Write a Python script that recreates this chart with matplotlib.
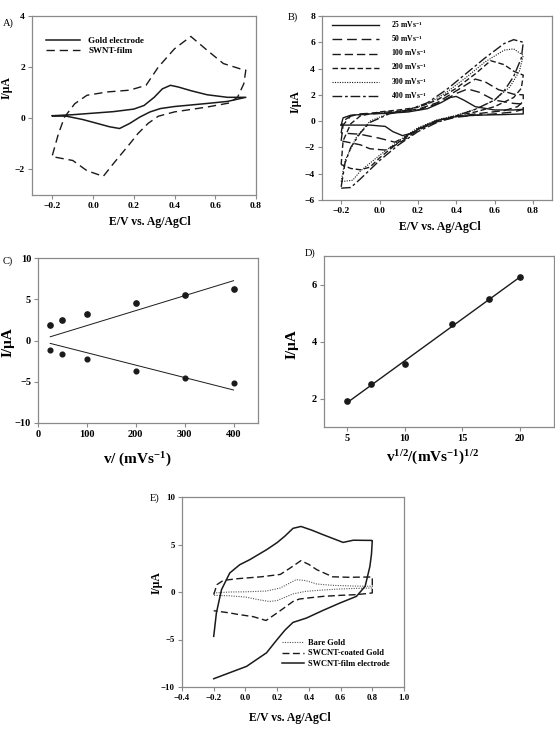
import matplotlib
matplotlib.use('Agg')
import matplotlib.pyplot as plt

plt.rcParams['font.family'] = ['Liberation Serif', 'DejaVu Serif']
plt.rcParams['font.weight'] = 'bold'
plt.rcParams['mathtext.fontset'] = 'custom'
plt.rcParams['mathtext.rm'] = 'Liberation Serif:bold'
plt.rcParams['mathtext.bf'] = 'Liberation Serif:bold'
plt.rcParams['mathtext.it'] = 'Liberation Serif:bold'
plt.rcParams['mathtext.default'] = 'bf'

# ---- panel A : gold vs SWNT film ----
goldA_E = [-0.2, -0.1, 0.0, 0.1, 0.2, 0.25, 0.3, 0.34, 0.38, 0.42, 0.48, 0.56, 0.66, 0.75,
           0.66, 0.56, 0.48, 0.4, 0.33, 0.28, 0.23, 0.18, 0.13, 0.08, 0.02, -0.05, -0.13, -0.2]
goldA_I = [0.1, 0.14, 0.2, 0.26, 0.36, 0.5, 0.82, 1.15, 1.29, 1.22, 1.08, 0.92, 0.82, 0.82,
           0.66, 0.58, 0.52, 0.46, 0.38, 0.25, 0.05, -0.2, -0.4, -0.33, -0.2, -0.05, 0.08, 0.1]
swntA_E = [-0.2, -0.17, -0.14, -0.09, -0.03, 0.07, 0.18, 0.26, 0.32, 0.4, 0.48, 0.56, 0.64, 0.72, 0.75,
           0.74, 0.71, 0.67, 0.56, 0.4, 0.32, 0.27, 0.22, 0.18, 0.1, 0.05, -0.03, -0.1, -0.2]
swntA_I = [-1.45, -0.6, 0.05, 0.57, 0.9, 1.03, 1.1, 1.29, 2.0, 2.72, 3.2, 2.66, 2.14, 1.94, 1.88,
           1.35, 0.83, 0.6, 0.44, 0.25, 0.08, -0.2, -0.6, -1.0, -1.77, -2.27, -2.05, -1.65, -1.5]

# ---- panel B : scan rates ----
rate_labels = ['25 mVs$^{-1}$', '50 mVs$^{-1}$', '100 mVs$^{-1}$',
               '200 mVs$^{-1}$', '300 mVs$^{-1}$', '400 mVs$^{-1}$']
b25_E = [-0.2, -0.19, -0.15, -0.05, 0.05, 0.15, 0.25, 0.32, 0.37, 0.4, 0.44, 0.5, 0.6, 0.7, 0.75,
         0.75, 0.65, 0.5, 0.4, 0.3, 0.22, 0.16, 0.12, 0.07, 0.03, -0.05, -0.2]
b25_I = [-0.3, 0.25, 0.45, 0.55, 0.6, 0.7, 0.95, 1.4, 1.8, 1.88, 1.6, 1.1, 0.85, 0.85, 0.9,
         0.55, 0.5, 0.45, 0.35, 0.05, -0.5, -0.95, -1.1, -0.8, -0.4, -0.3, -0.3]
b50_E = [-0.2, -0.19, -0.15, -0.1, 0.0, 0.1, 0.2, 0.3, 0.4, 0.46, 0.52, 0.6, 0.7, 0.75,
         0.75, 0.7, 0.6, 0.5, 0.4, 0.3, 0.2, 0.12, 0.08, 0.0, -0.1, -0.2]
b50_I = [-0.9, 0.0, 0.4, 0.5, 0.6, 0.7, 0.85, 1.3, 2.1, 2.45, 2.2, 1.6, 1.35, 1.3,
         0.9, 0.7, 0.55, 0.45, 0.3, -0.05, -0.6, -1.3, -1.6, -1.3, -1.0, -0.9]
b100_E = [-0.2, -0.19, -0.15, -0.1, 0.0, 0.1, 0.2, 0.3, 0.4, 0.5, 0.55, 0.62, 0.7, 0.75,
          0.75, 0.72, 0.65, 0.5, 0.4, 0.3, 0.2, 0.1, 0.03, -0.05, -0.1, -0.2]
b100_I = [-1.5, -0.3, 0.4, 0.55, 0.65, 0.75, 0.9, 1.4, 2.3, 3.2, 3.0, 2.4, 2.05, 2.0,
          1.5, 1.1, 0.8, 0.55, 0.35, 0.0, -0.7, -1.7, -2.2, -2.1, -1.8, -1.5]
b200_E = [-0.2, -0.19, -0.15, -0.1, 0.0, 0.1, 0.2, 0.3, 0.4, 0.5, 0.58, 0.65, 0.7, 0.75,
          0.75, 0.74, 0.7, 0.6, 0.5, 0.4, 0.3, 0.2, 0.1, 0.0, -0.05, -0.1, -0.15, -0.2]
b200_I = [-3.3, -1.5, -0.2, 0.4, 0.7, 0.85, 1.05, 1.6, 2.5, 3.6, 4.6, 4.3, 3.8, 3.5,
          3.5, 2.5, 1.8, 1.1, 0.7, 0.4, 0.05, -0.6, -1.6, -2.8, -3.5, -3.7, -3.6, -3.3]
b300_E = [-0.2, -0.18, -0.12, -0.05, 0.05, 0.15, 0.25, 0.35, 0.45, 0.55, 0.65, 0.7, 0.75,
          0.75, 0.73, 0.68, 0.6, 0.5, 0.4, 0.3, 0.2, 0.1, 0.0, -0.1, -0.14, -0.2]
b300_I = [-4.6, -3.0, -1.2, 0.0, 0.6, 0.9, 1.3, 2.2, 3.3, 4.5, 5.4, 5.5, 5.0,
          5.0, 3.8, 2.6, 1.6, 0.9, 0.45, 0.1, -0.5, -1.5, -2.6, -3.8, -4.5, -4.6]
b400_E = [-0.2, -0.18, -0.15, -0.1, -0.05, 0.05, 0.15, 0.25, 0.35, 0.45, 0.55, 0.65, 0.7, 0.75,
          0.75, 0.74, 0.7, 0.65, 0.6, 0.5, 0.4, 0.3, 0.2, 0.1, 0.0, -0.1, -0.15, -0.2]
b400_I = [-5.0, -3.2, -2.0, -0.9, -0.1, 0.55, 0.85, 1.4, 2.4, 3.6, 4.8, 5.9, 6.2, 6.0,
          6.0, 4.8, 3.4, 2.3, 1.6, 0.9, 0.4, -0.1, -0.8, -1.8, -3.0, -4.4, -5.05, -5.1]

# ---- panels C and D : peak currents ----
scan_rate = [25, 50, 100, 200, 300, 400]
sqrt_rate = [5, 7.07, 10, 14.14, 17.32, 20]
ipa = [1.9, 2.5, 3.2, 4.6, 5.5, 6.25]
ipc = [-1.1, -1.65, -2.3, -3.75, -4.6, -5.15]
lineC_v = [25, 400]
lineC_a = [0.45, 7.25]
lineC_c = [-0.35, -6.0]
lineD_x = [5, 20]
lineD_y = [1.85, 6.25]

# ---- panel E : three electrodes ----
bare_E = [-0.2, -0.1, 0.0, 0.13, 0.22, 0.28, 0.32, 0.38, 0.45, 0.55, 0.7, 0.8,
          0.8, 0.7, 0.6, 0.48, 0.38, 0.3, 0.25, 0.2, 0.15, 0.08, 0.0, -0.1, -0.2]
bare_I = [-0.1, 0.0, 0.02, 0.1, 0.42, 0.95, 1.3, 1.2, 0.84, 0.7, 0.62, 0.6,
          0.42, 0.38, 0.32, 0.2, 0.07, -0.2, -0.55, -0.9, -1.0, -0.8, -0.53, -0.4, -0.35]
coat_E = [-0.2, -0.18, -0.14, -0.05, 0.1, 0.22, 0.28, 0.35, 0.4, 0.45, 0.55, 0.65, 0.8,
          0.8, 0.7, 0.6, 0.49, 0.4, 0.34, 0.3, 0.25, 0.2, 0.13, 0.05, -0.05, -0.1, -0.2]
coat_I = [-0.28, 0.77, 1.22, 1.4, 1.6, 1.85, 2.5, 3.3, 2.9, 2.35, 1.6, 1.55, 1.58,
          -0.1, -0.28, -0.35, -0.46, -0.62, -0.74, -1.0, -1.6, -2.2, -3.0, -2.6, -2.35, -2.2, -1.97]
film_E = [-0.2, -0.183, -0.151, -0.099, -0.036, 0.027, 0.133, 0.2, 0.25, 0.3, 0.35, 0.42, 0.49,
          0.616, 0.68, 0.796, 0.8, 0.795, 0.785, 0.755, 0.70, 0.596, 0.49, 0.385, 0.3, 0.25,
          0.2, 0.133, 0.007, -0.1, -0.2]
film_I = [-4.67, -2.2, 0.24, 2.0, 2.87, 3.4, 4.45, 5.2, 5.9, 6.7, 6.9, 6.5, 6.03,
          5.22, 5.45, 5.43, 5.4, 4.0, 2.7, 0.6, -0.46, -1.16, -1.93, -2.74, -3.2, -4.0,
          -5.0, -6.4, -7.83, -8.5, -9.13]

W, H = 555, 729
fig = plt.figure(figsize=(W / 100, H / 100), dpi=100)
ink = '#1a1a1a'
spine_col = '#8a8a8a'


def px_axes(l, t, r, b):
    return fig.add_axes([l / W, 1 - b / H, (r - l) / W, (b - t) / H])


def style(ax, tick_fs):
    for s in ax.spines.values():
        s.set_color(spine_col)
        s.set_linewidth(0.9)
    ax.tick_params(direction='out', length=3, width=0.8, color=spine_col,
                   labelsize=tick_fs, pad=2)
    for lab in ax.get_xticklabels() + ax.get_yticklabels():
        lab.set_fontweight('bold')


def labels(ax, box, xl, xpos, yl, ypos, fs):
    l, t, r, b = box
    ax.set_xlabel(xl, fontsize=fs, fontweight='bold', va='center')
    ax.xaxis.set_label_coords((xpos[0] - l) / (r - l), (b - xpos[1]) / (b - t))
    ax.set_ylabel(yl, fontsize=fs, fontweight='bold', va='center')
    ax.yaxis.set_label_coords((ypos[0] - l) / (r - l), (b - ypos[1]) / (b - t))


def letter(x, y, s):
    fig.text(x / W, 1 - y / H, s, fontsize=7.5, fontweight='normal', ha='left', va='center')


# A
boxA = (32, 16, 256, 195)
axA = px_axes(*boxA)
axA.plot(goldA_E, goldA_I, color=ink, lw=1.1, label='Gold electrode')
axA.plot(swntA_E, swntA_I, color=ink, lw=1.0, dashes=(6, 3.5), label='SWNT-film')
axA.set_xlim(-0.3, 0.8)
axA.set_ylim(-3, 4)
axA.set_xticks([-0.2, 0.0, 0.2, 0.4, 0.6, 0.8])
axA.set_yticks([-2, 0, 2, 4])
style(axA, 6.8)
labels(axA, boxA, 'E/V vs. Ag/AgCl', (150, 222), 'I/\u03bcA', (7, 88), 8.5)
axA.legend(loc='upper left', bbox_to_anchor=(0.0625, 0.885), frameon=False, fontsize=6.5,
           handlelength=3.8, handletextpad=0.9, labelspacing=0.25, borderpad=0, borderaxespad=0)
letter(3, 23, 'A)')

# B
boxB = (322, 16, 552, 200)
axB = px_axes(*boxB)
b_E = [b25_E, b50_E, b100_E, b200_E, b300_E, b400_E]
b_I = [b25_I, b50_I, b100_I, b200_I, b300_I, b400_I]
b_dash = [None, (7, 3.5), (6, 2.8), (4, 2), (1, 1.2), (7, 2, 2, 2)]
b_lw = [1.0, 1.0, 1.0, 1.0, 0.8, 1.0]
for E, I, d, w, lab in zip(b_E, b_I, b_dash, b_lw, rate_labels):
    if d is None:
        axB.plot(E, I, color=ink, lw=w, label=lab)
    else:
        axB.plot(E, I, color=ink, lw=w, dashes=d, label=lab)
axB.set_xlim(-0.3, 0.9)
axB.set_ylim(-6, 8)
axB.set_xticks([-0.2, 0.0, 0.2, 0.4, 0.6, 0.8])
axB.set_yticks(range(-6, 9, 2))
style(axB, 6.8)
labels(axB, boxB, 'E/V vs. Ag/AgCl', (440, 227), 'I/\u03bcA', (296, 102), 8.5)
axB.legend(loc='upper left', bbox_to_anchor=(0.043, 0.985), frameon=False, fontsize=5.5,
           handlelength=6.2, handletextpad=1.6, labelspacing=0.42, borderpad=0, borderaxespad=0)
letter(288, 17, 'B)')

# C
boxC = (38, 258, 258, 423)
axC = px_axes(*boxC)
axC.plot(lineC_v, lineC_a, color=ink, lw=0.7)
axC.plot(lineC_v, lineC_c, color=ink, lw=0.7)
axC.plot(scan_rate, ipa, 'o', color=ink, ms=3.8)
axC.plot(scan_rate, ipc, 'o', color=ink, ms=3.4)
axC.set_xlim(0, 450)
axC.set_ylim(-10, 10)
axC.set_xticks([0, 100, 200, 300, 400])
axC.set_yticks([-10, -5, 0, 5, 10])
style(axC, 7.5)
labels(axC, boxC, 'v/ (mVs$^{-1}$)', (137, 460), 'I/\u03bcA', (8, 342), 11)
letter(3, 261, 'C)')

# D
boxD = (324, 256, 554, 427)
axD = px_axes(*boxD)
axD.plot(lineD_x, lineD_y, color=ink, lw=1.0)
axD.plot(sqrt_rate, ipa, 'o', color=ink, ms=3.8)
axD.set_xlim(3, 23)
axD.set_ylim(1, 7)
axD.set_xticks([5, 10, 15, 20])
axD.set_yticks([2, 4, 6])
style(axD, 7.5)
labels(axD, boxD, 'v$^{1/2}$/(mVs$^{-1}$)$^{1/2}$', (432, 458), 'I/\u03bcA', (292, 344), 11)
letter(305, 253, 'D)')

# E
boxE = (182, 497, 404, 687)
axE = px_axes(*boxE)
axE.plot(bare_E, bare_I, color='#555555', lw=0.8, dashes=(1, 1.2), label='Bare Gold')
axE.plot(coat_E, coat_I, color=ink, lw=1.0, dashes=(5, 2.5), label='SWCNT-coated Gold')
axE.plot(film_E, film_I, color=ink, lw=1.1, label='SWCNT-film electrode')
axE.set_xlim(-0.4, 1.0)
axE.set_ylim(-10, 10)
axE.set_xticks([-0.4, -0.2, 0.0, 0.2, 0.4, 0.6, 0.8, 1.0])
axE.set_yticks([-10, -5, 0, 5, 10])
style(axE, 6.3)
labels(axE, boxE, 'E/V vs. Ag/AgCl', (290, 718), 'I/\u03bcA', (157, 583), 8.5)
axE.legend(loc='upper left', bbox_to_anchor=(0.45, 0.255), frameon=False, fontsize=6,
           handlelength=2.7, handletextpad=0.4, labelspacing=0.35, borderpad=0, borderaxespad=0)
letter(150, 498, 'E)')

fig.savefig('out.png', dpi=100)
